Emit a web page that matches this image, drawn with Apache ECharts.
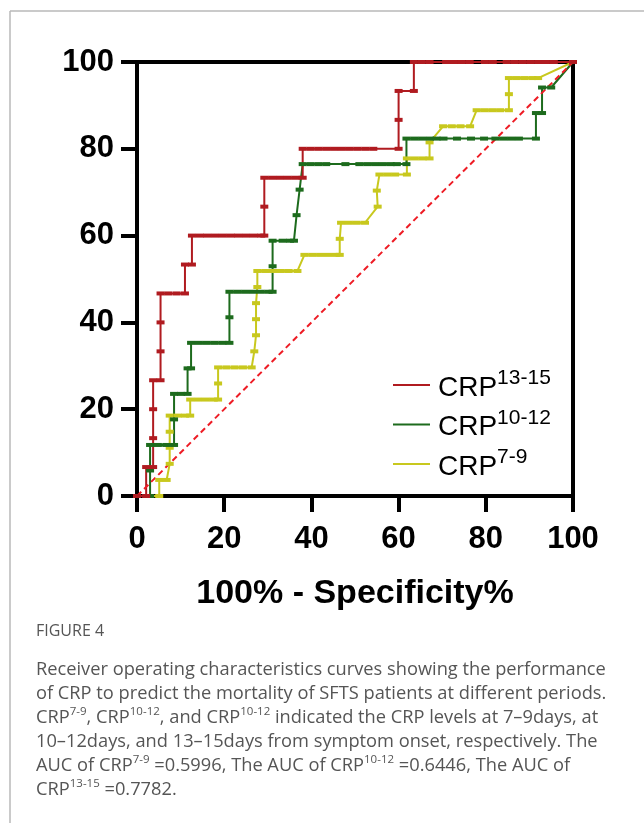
<!DOCTYPE html>
<html>
<head>
<meta charset="utf-8">
<script src="https://cdn.jsdelivr.net/npm/echarts@6/dist/echarts.min.js"></script>
<style>
html,body{margin:0;padding:0;background:#fff;}
#chart{width:644px;height:823px;}
</style>
</head>
<body>
<div id="chart"></div>
<script>
// ---- data: [100% - Specificity%, Sensitivity%] ----
const crp1315 = [[0,0],[2.1,0],[2.1,6.67],[3.7,6.67],[3.7,13.33],[3.7,20],[3.7,26.67],[5.4,26.67],[5.4,33.33],[5.4,40],[5.4,46.67],[7.2,46.67],[9.1,46.67],[11.0,46.67],[11.0,53.33],[12.6,53.33],[12.6,60],[14.4,60],[16.1,60],[17.9,60],[19.7,60],[21.5,60],[23.2,60],[25.0,60],[26.8,60],[28.5,60],[29.2,60],[29.2,66.67],[29.2,73.33],[31.0,73.33],[32.8,73.33],[34.6,73.33],[36.4,73.33],[38.0,73.33],[38.0,80],[39.8,80],[41.6,80],[43.4,80],[45.2,80],[47.0,80],[48.8,80],[50.6,80],[52.4,80],[54.2,80],[60.0,80],[60.0,86.67],[60.0,93.33],[63.5,93.33],[63.5,100],[65.3,100],[67.1,100],[70.9,100],[72.7,100],[74.5,100],[76.3,100],[79.8,100],[81.6,100],[84.8,100],[86.6,100],[88.4,100],[90.2,100],[92.0,100],[93.8,100],[95.6,100],[100,100]];
const crp1012 = [[0,0],[3.0,0],[3.0,5.88],[3.0,11.76],[4.8,11.76],[6.7,11.76],[8.5,11.76],[8.5,17.65],[8.5,23.53],[10.1,23.53],[11.6,23.53],[11.6,29.41],[12.4,29.41],[12.4,35.29],[14.2,35.29],[16.0,35.29],[17.8,35.29],[19.6,35.29],[21.2,35.29],[21.2,41.18],[21.2,47.06],[23.0,47.06],[24.8,47.06],[26.6,47.06],[28.4,47.06],[30.2,47.06],[31.1,47.06],[31.1,52.94],[31.1,58.82],[33.4,58.82],[35.1,58.82],[36.0,58.82],[36.6,64.71],[37.3,70.59],[38.0,76.47],[39.8,76.47],[41.6,76.47],[43.4,76.47],[47.8,76.47],[51.0,76.47],[52.8,76.47],[54.6,76.47],[56.4,76.47],[58.2,76.47],[59.6,76.47],[61.8,76.47],[61.8,82.35],[63.6,82.35],[65.4,82.35],[67.2,82.35],[68.7,82.35],[70.3,82.35],[73.4,82.35],[76.6,82.35],[79.6,82.35],[82.2,82.35],[84.0,82.35],[85.8,82.35],[87.6,82.35],[91.5,82.35],[91.5,88.24],[92.9,88.24],[92.9,94.12],[95.0,94.12],[100,100]];
const crp79 = [[0,0],[5.1,0],[5.1,3.7],[6.8,3.7],[7.5,7.41],[7.5,11.11],[7.5,14.81],[7.5,18.52],[9.3,18.52],[11.0,18.52],[12.2,18.52],[12.2,22.22],[14.0,22.22],[15.8,22.22],[17.6,22.22],[18.6,22.22],[18.6,25.93],[18.6,29.63],[20.5,29.63],[22.4,29.63],[24.3,29.63],[26.3,29.63],[26.9,33.33],[27.3,37.04],[27.3,40.74],[27.3,44.44],[27.6,48.15],[27.6,51.85],[29.4,51.85],[31.2,51.85],[33.0,51.85],[34.8,51.85],[36.8,51.85],[38.4,55.56],[40.2,55.56],[42.0,55.56],[43.8,55.56],[45.6,55.56],[46.5,55.56],[46.5,59.26],[46.8,62.96],[48.6,62.96],[50.4,62.96],[52.3,62.96],[55.2,66.67],[55.0,70.37],[55.6,74.07],[57.4,74.07],[59.2,74.07],[61.9,74.07],[61.9,77.78],[63.7,77.78],[65.5,77.78],[67.1,77.78],[67.1,81.48],[70.2,85.19],[72.2,85.19],[74.2,85.19],[76.4,85.19],[77.9,88.89],[79.7,88.89],[81.5,88.89],[83.3,88.89],[85.3,88.89],[85.3,92.59],[85.3,96.3],[87.1,96.3],[88.9,96.3],[90.7,96.3],[92.0,96.3],[100,100]];
const reference = [[0,0],[100,100]];

const seriesNames = ['CRP13-15', 'CRP10-12', 'CRP7-9'];
const seriesSups = ['13-15', '10-12', '7-9'];
const seriesColors = ['#B01B20', '#1D6B1D', '#C8C81E'];
const axisTicks = [0, 20, 40, 60, 80, 100];
const xTitle = '100% - Specificity%';
const figureLabel = 'FIGURE 4';
const captionLines = [
  '{t|Receiver operating characteristics curves showing the performance}',
  '{t|of CRP to predict the mortality of SFTS patients at different periods.}',
  '{t|CRP}{s|7-9}{t|, CRP}{s|10-12}{t|, and CRP}{s|10-12}{t| indicated the CRP levels at 7\u20139days, at}',
  '{t|10\u201312days, and 13\u201315days from symptom onset, respectively. The}',
  '{t|AUC of CRP}{s|7-9}{t| =0.5996, The AUC of CRP}{s|10-12}{t| =0.6446, The AUC of}',
  '{t|CRP}{s|13-15}{t| =0.7782.}'
];

const chart = echarts.init(document.getElementById('chart'), null, {renderer: 'canvas'});

function curve(name, data, color) {
  return {
    name: name, type: 'line', data: data, clip: false,
    symbol: 'rect', symbolSize: [8, 4], showAllSymbol: true,
    lineStyle: {color: color, width: 2},
    itemStyle: {color: color},
    emphasis: {disabled: true}, animation: false
  };
}

const option = {
  animation: false,
  backgroundColor: '#fff',
  grid: {left: 137, right: 71, top: 62, bottom: 327, show: true, borderColor: '#000', borderWidth: 4, backgroundColor: 'transparent'},
  xAxis: {
    type: 'value', min: axisTicks[0], max: axisTicks[axisTicks.length - 1], interval: 20,
    axisLine: {show: true, lineStyle: {color: '#000', width: 4}},
    axisTick: {show: true, length: 16, lineStyle: {color: '#000', width: 4}},
    splitLine: {show: false},
    axisLabel: {margin: 28, color: '#000', fontSize: 31, fontWeight: 'bold', fontFamily: 'Arial, "Liberation Sans", sans-serif'},
    name: xTitle, nameLocation: 'middle', nameGap: 81,
    nameTextStyle: {color: '#000', fontSize: 34, fontWeight: 'bold', fontFamily: 'Arial, "Liberation Sans", sans-serif'}
  },
  yAxis: {
    type: 'value', min: axisTicks[0], max: axisTicks[axisTicks.length - 1], interval: 20,
    axisLine: {show: true, lineStyle: {color: '#000', width: 4}},
    axisTick: {show: true, length: 16, lineStyle: {color: '#000', width: 4}},
    splitLine: {show: false},
    axisLabel: {margin: 23, color: '#000', fontSize: 31, fontWeight: 'bold', fontFamily: 'Arial, "Liberation Sans", sans-serif'}
  },
  legend: {
    orient: 'vertical', left: 393, top: 368, padding: 0,
    itemWidth: 37, itemHeight: 2, itemGap: 5.5, icon: 'rect',
    selectedMode: false,
    data: seriesNames,
    formatter: function (n) { return '{b|CRP}{s|' + seriesSups[seriesNames.indexOf(n)] + '}'; },
    textStyle: {
      color: '#000',
      rich: {
        b: {fontSize: 28, fontFamily: 'Arial, "Liberation Sans", sans-serif', color: '#000', lineHeight: 34, padding: [6, 0, 0, 3]},
        s: {fontSize: 21, fontFamily: 'Arial, "Liberation Sans", sans-serif', color: '#000', lineHeight: 20, verticalAlign: 'top'}
      }
    }
  },
  series: [
    curve(seriesNames[2], crp79, seriesColors[2]),
    curve(seriesNames[1], crp1012, seriesColors[1]),
    curve(seriesNames[0], crp1315, seriesColors[0]),
    {
      name: 'reference', type: 'line', data: reference, clip: false, symbol: 'none',
      lineStyle: {color: '#EE1C25', width: 2, type: [6, 4]}, emphasis: {disabled: true}
    }
  ],
  graphic: [
    {type: 'line', shape: {x1: 10, y1: 11, x2: 644, y2: 11}, style: {stroke: '#b8b8b8', lineWidth: 1.5}, silent: true},
    {type: 'line', shape: {x1: 10, y1: 11, x2: 10, y2: 823}, style: {stroke: '#b8b8b8', lineWidth: 1.5}, silent: true},
    {type: 'text', x: 36, y: 623, silent: true,
      style: {text: figureLabel, fill: '#555', font: '16px "Open Sans", sans-serif', textVerticalAlign: 'top'}},
    {type: 'text', x: 36, y: 657.5, silent: true,
      style: {
        text: captionLines.join('\n'), fill: '#555', textVerticalAlign: 'top',
        rich: {
          t: {fontSize: 18.25, fontFamily: '"Open Sans", sans-serif', fill: '#555', lineHeight: 24},
          s: {fontSize: 11.5, fontFamily: '"Open Sans", sans-serif', fill: '#555', lineHeight: 17, verticalAlign: 'top'}
        }
      }}
  ]
};
chart.setOption(option);
</script>
</body>
</html>
